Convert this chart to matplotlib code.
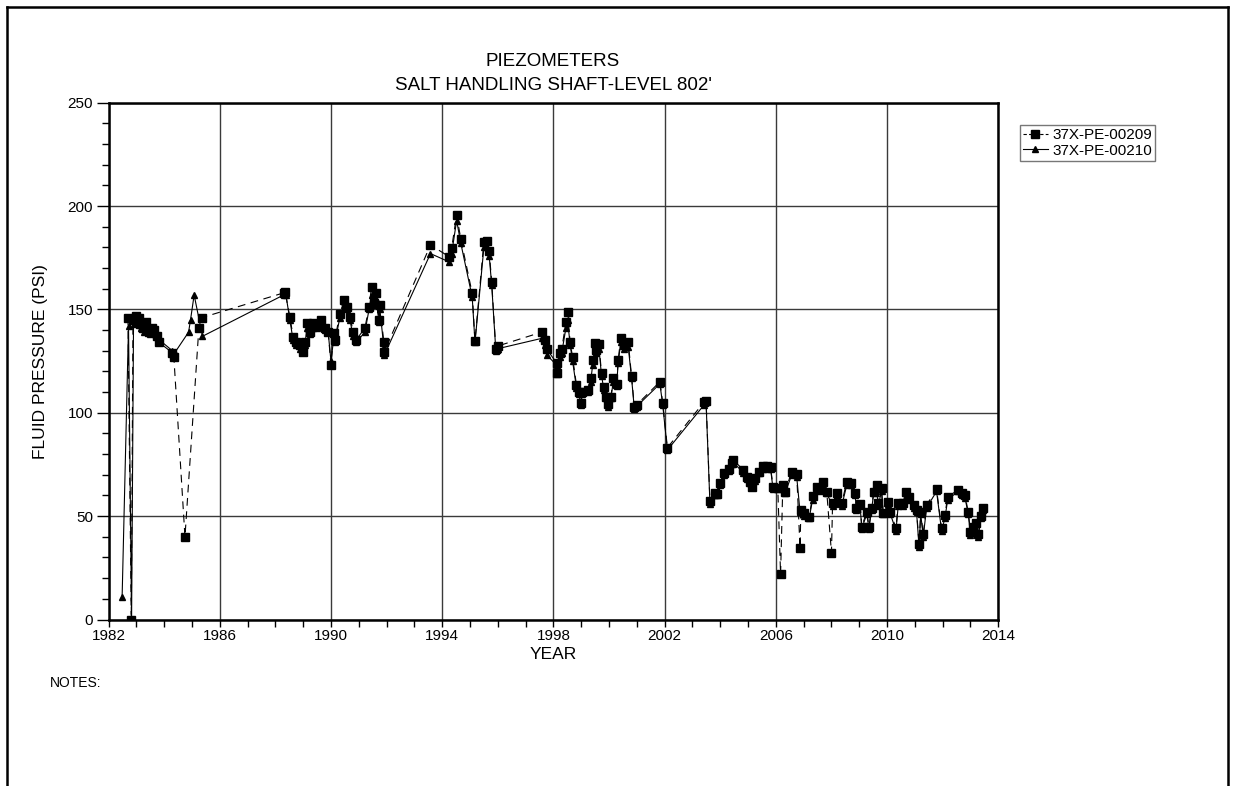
import matplotlib
matplotlib.use("Agg")
import matplotlib.pyplot as plt
from matplotlib.lines import Line2D
from matplotlib.ticker import MultipleLocator

plt.rcParams['font.family'] = ['Liberation Sans', 'DejaVu Sans']

title_lines = ["PIEZOMETERS", "SALT HANDLING SHAFT-LEVEL 802'"]
x_label = "YEAR"
y_label = "FLUID PRESSURE (PSI)"
notes_text = "NOTES:"
series_names = ["37X-PE-00209", "37X-PE-00210"]
x_ticks = [1982, 1986, 1990, 1994, 1998, 2002, 2006, 2010, 2014]
y_ticks = [0, 50, 100, 150, 200, 250]

# Series 1: 37X-PE-00209 (squares, dashed)
s1_year = [1982.70, 1982.82, 1982.88, 1982.98, 1983.08, 1983.15, 1983.25, 1983.35, 1983.45, 1983.55,
           1983.65, 1983.75, 1983.82, 1984.30, 1984.35, 1984.75, 1985.25, 1985.35, 1988.30, 1988.35,
           1988.52, 1988.64, 1988.76, 1988.90, 1988.98, 1989.06, 1989.14, 1989.24, 1989.36, 1989.50,
           1989.66, 1989.78, 1989.90, 1990.00, 1990.10, 1990.14, 1990.32, 1990.46, 1990.56, 1990.68,
           1990.80, 1990.90, 1991.22, 1991.37, 1991.46, 1991.55, 1991.62, 1991.73, 1991.76, 1991.90,
           1991.92, 1993.58, 1994.25, 1994.34, 1994.52, 1994.67, 1995.08, 1995.18, 1995.50, 1995.60,
           1995.69, 1995.78, 1995.93, 1996.00, 1997.58, 1997.70, 1997.76, 1998.12, 1998.14, 1998.23,
           1998.30, 1998.45, 1998.51, 1998.60, 1998.69, 1998.83, 1998.92, 1998.98, 1999.04, 1999.25,
           1999.34, 1999.41, 1999.49, 1999.55, 1999.64, 1999.73, 1999.82, 1999.89, 1999.97, 2000.07,
           2000.15, 2000.27, 2000.33, 2000.42, 2000.54, 2000.69, 2000.81, 2000.91, 2000.99, 2001.83,
           2001.93, 2002.10, 2003.43, 2003.49, 2003.63, 2003.81, 2003.90, 2004.00, 2004.13, 2004.30,
           2004.42, 2004.47, 2004.83, 2004.95, 2005.07, 2005.13, 2005.25, 2005.40, 2005.55, 2005.67,
           2005.81, 2005.90, 2006.07, 2006.17, 2006.25, 2006.33, 2006.57, 2006.75, 2006.87, 2006.90,
           2007.01, 2007.20, 2007.32, 2007.47, 2007.60, 2007.70, 2007.83, 2008.00, 2008.04, 2008.20,
           2008.37, 2008.55, 2008.72, 2008.85, 2008.90, 2009.03, 2009.09, 2009.27, 2009.35, 2009.44,
           2009.52, 2009.62, 2009.68, 2009.80, 2009.86, 2010.04, 2010.12, 2010.32, 2010.40, 2010.56,
           2010.68, 2010.80, 2010.97, 2011.06, 2011.15, 2011.21, 2011.30, 2011.42, 2011.78, 2011.96,
           2012.08, 2012.18, 2012.56, 2012.68, 2012.80, 2012.92, 2013.00, 2013.10, 2013.20, 2013.28,
           2013.37, 2013.44]
s1_psi = [146, 0, 145, 147, 146, 143, 141, 144, 139, 141,
          140, 137, 134, 129, 127, 40, 141, 146, 158, 158.6,
          146.5, 136.8, 134.4, 132.8, 129.5, 134.4, 143.3, 139.2, 143.3, 142,
          144.9, 140.9, 139.2, 123, 138.4, 135.2, 148, 154.6, 151.3, 146.5,
          139.2, 135.2, 140.9, 151.3, 161, 153, 157.8, 145, 152, 134.4,
          129.5, 181.2, 175.5, 179.6, 195.7, 184, 157.8, 134.7, 182.8, 183,
          178.4, 163.4, 130.7, 132.3, 139, 135, 130.8, 124, 119.4, 128.8,
          130.8, 143.8, 148.6, 134.4, 126.8, 113.4, 110.2, 104.9, 110.2, 111,
          116.7, 125.5, 133.9, 130.4, 133.1, 119.1, 112.3, 107.8, 104.3, 107.8,
          116.7, 113.9, 125.5, 136, 132.8, 134.4, 117.8, 103, 103.8, 115,
          104.9, 83.1, 105.4, 105.9, 57.3, 61, 60.5, 65.9, 71, 73,
          75.5, 77.2, 72.3, 69.1, 66.7, 64.2, 68.3, 71.5, 74.3, 74.3,
          73.6, 64.2, 63.5, 21.9, 65, 61.8, 71.5, 70.4, 34.4, 53,
          51.4, 49.7, 59.7, 64.2, 63, 66.7, 61.8, 32.3, 56.2, 61,
          56.2, 66.7, 66.2, 61, 53.8, 55.9, 44.9, 52.2, 44.9, 53.8,
          61.8, 65.1, 56.2, 63.5, 51.7, 57, 52.2, 44.1, 56.2, 56.2,
          61.8, 59.4, 55.4, 53, 36.4, 51.9, 41.2, 55.4, 63, 44.1,
          50.6, 59.4, 62.7, 61.3, 60.2, 51.9, 42.5, 44.9, 46.8, 41.2,
          50, 54.1]

# Series 2: 37X-PE-00210 (triangles, solid)
s2_year = [1982.49, 1982.72, 1982.83, 1982.90, 1983.00, 1983.10, 1983.18, 1983.28, 1983.38, 1983.48,
           1983.58, 1983.68, 1983.78, 1983.85, 1984.30, 1984.38, 1984.88, 1984.95, 1985.08, 1985.38,
           1988.30, 1988.38, 1988.52, 1988.64, 1988.76, 1988.90, 1988.98, 1989.06, 1989.14, 1989.24,
           1989.36, 1989.50, 1989.66, 1989.78, 1989.90, 1990.00, 1990.10, 1990.14, 1990.32, 1990.46,
           1990.56, 1990.68, 1990.80, 1990.90, 1991.22, 1991.37, 1991.46, 1991.55, 1991.62, 1991.73,
           1991.76, 1991.90, 1991.92, 1993.58, 1994.25, 1994.34, 1994.52, 1994.67, 1995.08, 1995.18,
           1995.50, 1995.60, 1995.69, 1995.78, 1995.93, 1996.00, 1997.58, 1997.70, 1997.76, 1998.12,
           1998.14, 1998.23, 1998.30, 1998.45, 1998.51, 1998.60, 1998.69, 1998.83, 1998.92, 1998.98,
           1999.04, 1999.25, 1999.34, 1999.41, 1999.49, 1999.55, 1999.64, 1999.73, 1999.82, 1999.89,
           1999.97, 2000.07, 2000.15, 2000.27, 2000.33, 2000.42, 2000.54, 2000.69, 2000.81, 2000.91,
           2000.99, 2001.83, 2001.93, 2002.10, 2003.43, 2003.49, 2003.63, 2003.81, 2003.90, 2004.00,
           2004.13, 2004.30, 2004.42, 2004.47, 2004.83, 2004.95, 2005.07, 2005.13, 2005.25, 2005.40,
           2005.55, 2005.67, 2005.81, 2005.90, 2006.07, 2006.17, 2006.25, 2006.33, 2006.57, 2006.75,
           2006.87, 2007.01, 2007.20, 2007.32, 2007.47, 2007.60, 2007.70, 2007.83, 2008.04, 2008.20,
           2008.37, 2008.55, 2008.72, 2008.85, 2008.90, 2009.03, 2009.09, 2009.27, 2009.35, 2009.44,
           2009.52, 2009.62, 2009.68, 2009.80, 2009.86, 2010.04, 2010.12, 2010.32, 2010.40, 2010.56,
           2010.68, 2010.80, 2010.97, 2011.06, 2011.15, 2011.21, 2011.30, 2011.42, 2011.78, 2011.96,
           2012.08, 2012.18, 2012.56, 2012.68, 2012.80, 2012.92, 2013.00, 2013.10, 2013.20, 2013.28,
           2013.37, 2013.44]
s2_psi = [11, 142, 0, 143, 145, 144, 141, 139, 142, 138,
          140, 138, 136, 135, 130, 129, 139, 145, 157, 137,
          157, 157, 145, 135, 133, 131, 130, 133, 141, 138,
          141, 141, 143, 140, 139, 125, 136, 134, 146, 152,
          150, 145, 137, 134, 139, 150, 157, 152, 155, 144,
          150, 132, 128, 177, 173, 177, 193, 182, 156, 134,
          180, 180, 176, 162, 130, 131, 136, 133, 128, 123,
          119, 127, 129, 141, 145, 133, 125, 112, 109, 104,
          109, 110, 115, 123, 131, 129, 131, 118, 111, 107,
          103, 107, 115, 113, 124, 134, 131, 132, 117, 102,
          103, 114, 104, 82, 104, 105, 56, 60, 60, 65,
          70, 72, 75, 76, 71, 68, 66, 64, 67, 71,
          73, 73, 73, 63, 63, 65, 64, 61, 70, 69,
          52, 50, 49, 58, 63, 62, 65, 61, 55, 60,
          55, 65, 65, 60, 53, 55, 44, 51, 44, 53,
          61, 64, 55, 62, 51, 56, 51, 43, 55, 55,
          61, 58, 54, 52, 35, 51, 40, 54, 62, 43,
          49, 58, 62, 60, 59, 51, 41, 44, 46, 40,
          49, 53]

W, H = 1236, 786
fig = plt.figure(figsize=(W / 100, H / 100), dpi=100)

# axes placement (pixels)
L, R, T, B = 108.5, 998.3, 102.7, 619.5
ax = fig.add_axes([L / W, 1 - B / H, (R - L) / W, (B - T) / H])

ax.plot(s2_year, s2_psi, color='black', lw=0.8, linestyle='-', marker='^',
        markersize=4.5, markerfacecolor='black', markeredgecolor='black', zorder=3,
        label=series_names[1])
ax.plot(s1_year, s1_psi, color='black', lw=0.8, linestyle=(0, (7, 5)), marker='s',
        markersize=5.8, markerfacecolor='black', markeredgecolor='black', zorder=4,
        label=series_names[0])

ax.set_xlim(1982, 2014)
ax.set_ylim(0, 250)
ax.set_xticks(x_ticks)
ax.set_yticks(y_ticks)
ax.xaxis.set_minor_locator(MultipleLocator(1))
ax.yaxis.set_minor_locator(MultipleLocator(10))
ax.tick_params(axis='both', which='major', direction='out', labelsize=11, width=1, color='black', pad=2)
ax.tick_params(axis='x', which='major', length=5)
ax.tick_params(axis='y', which='major', length=9)
ax.tick_params(axis='x', which='minor', direction='out', length=5, width=1)
ax.tick_params(axis='y', which='minor', direction='out', length=5, width=1)

ax.grid(True, which='major', color='#3a3a3a', lw=1.0)
ax.set_axisbelow(True)
for s in ax.spines.values():
    s.set_linewidth(1.8)
    s.set_color('black')

ax.set_xlabel(x_label, fontsize=12.5, labelpad=3)
ax.set_ylabel(y_label, fontsize=12.5, labelpad=14)

fig.text(553 / W, 1 - 62 / H, title_lines[0], ha='center', va='center', fontsize=13.5)
fig.text(553 / W, 1 - 86 / H, title_lines[1], ha='center', va='center', fontsize=13.5)
fig.text(50 / W, 1 - 683 / H, notes_text, ha='left', va='center', fontsize=10)

handles = [
    Line2D([0], [0], color='black', lw=0.8, linestyle=(0, (3, 2)), marker='s', markersize=5.5),
    Line2D([0], [0], color='black', lw=0.8, linestyle='-', marker='^', markersize=4.5),
]
leg = fig.legend(handles, series_names, loc='upper left',
                 bbox_to_anchor=(1020 / W, 1 - 125 / H), bbox_transform=fig.transFigure,
                 fontsize=11, frameon=True, fancybox=False, borderpad=0.2,
                 labelspacing=0.1, handlelength=1.6, handletextpad=0.3, borderaxespad=0)
leg.get_frame().set_edgecolor('#555555')
leg.get_frame().set_linewidth(1.0)

# outer page frame (left, top, right)
fig.add_artist(Line2D([7 / W, 7 / W], [0, 1 - 7 / H], color='black', lw=1.8, transform=fig.transFigure))
fig.add_artist(Line2D([7 / W, 1228 / W], [1 - 7 / H, 1 - 7 / H], color='black', lw=1.8, transform=fig.transFigure))
fig.add_artist(Line2D([1228 / W, 1228 / W], [0, 1 - 7 / H], color='black', lw=1.8, transform=fig.transFigure))

fig.savefig("out.png", dpi=100)
